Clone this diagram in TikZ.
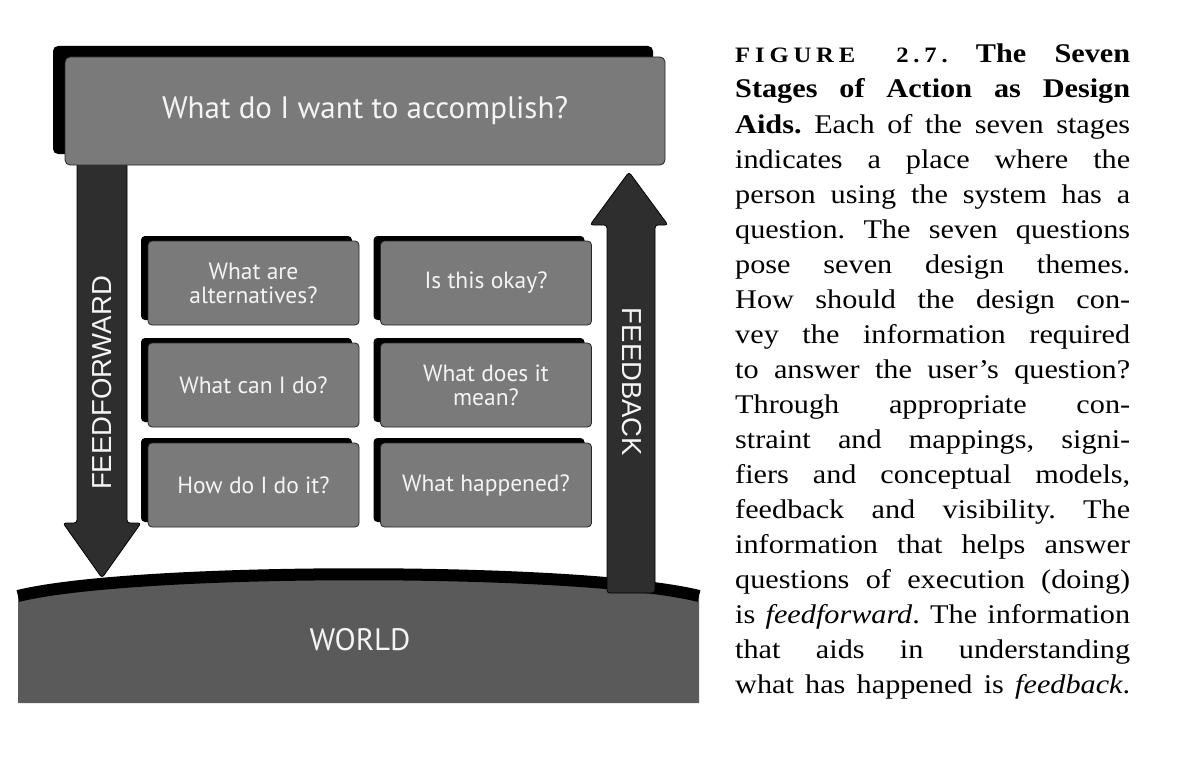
\documentclass[tikz,border=0pt]{standalone}
\usepackage{fontspec}
\setmainfont{Liberation Serif}[FakeStretch=1.12]
\newfontfamily\boxfont{PT Sans}
\newfontfamily\labfont{Liberation Sans}
\usetikzlibrary{shadows}
\definecolor{boxgray}{HTML}{7A7A7A}
\definecolor{shaftgray}{HTML}{2E2E2E}
\definecolor{worldgray}{HTML}{5A5A5A}
\definecolor{txtwhite}{HTML}{F4F4F4}
\frenchspacing
\begin{document}
\begin{tikzpicture}[x=1pt,y=-1pt,
  bigbox/.style={draw=black!85, line width=0.8pt, fill=boxgray, rounded corners=5pt,
    minimum width=600pt, minimum height=108pt, inner sep=0pt, text=txtwhite,
    font=\boxfont\fontsize{31}{33}\selectfont,
    general shadow={fill=black, shadow xshift=-12pt, shadow yshift=11pt}},
  qbox/.style={draw=black!85, line width=0.8pt, fill=boxgray, rounded corners=4pt,
    minimum width=211pt, minimum height=84pt, inner sep=0pt, text=txtwhite, align=center,
    font=\boxfont\fontsize{23.5}{24}\selectfont,
    general shadow={fill=black, shadow xshift=-7pt, shadow yshift=5pt}},
  shaft/.style={fill=shaftgray, draw=black, line width=0.8pt, rounded corners=3pt},
  arrowlab/.style={text=txtwhite, font=\labfont\fontsize{27.5}{30}\selectfont, inner sep=0pt},
  capline/.style={anchor=base west, inner sep=0pt, font=\fontsize{27}{35}\selectfont}]
\useasboundingbox (0,0) rectangle (1184,768);
\fill[white] (0,0) rectangle (1184,768);

% world
\fill[worldgray] (18,703) -- (18,596) .. controls (135,567) and (582,567) .. (699,596) -- (699,703) -- cycle;
\draw[black, line width=12pt] (18,596) .. controls (135,567) and (582,567) .. (699,596);
\node[text=txtwhite, font=\boxfont\fontsize{31}{33}\selectfont, inner sep=0pt] (world) at (360,640) {WORLD};

% arrows
\coordinate (ffstart) at (102,160);
\coordinate (fftip) at (102,578);
\draw[shaft] (77,160) -- (77,523) -- (63,523) -- (fftip) -- (141,523) -- (127,523) -- (127,160) -- cycle;
\coordinate (fbstart) at (631,593);
\coordinate (fbtip) at (629,172);
\draw[shaft] (607,593) -- (607,225) -- (590,225) -- (fbtip) -- (668,225) -- (655,225) -- (655,593) -- cycle;
\node[arrowlab, rotate=90] (ff) at (102,383) {FEEDFORWARD};
\node[arrowlab, rotate=-90] (fb) at (632,382) {FEEDBACK};

% goal box
\node[bigbox] (goal) at (365,111) {What do I want to accomplish?};

% question boxes
\node[qbox] (alt)  at (253.5,283) {What are\\alternatives?};
\node[qbox] (can)  at (253.5,385) {What can I do?};
\node[qbox] (how)  at (253.5,485) {How do I do it?};
\node[qbox] (okay) at (486,283) {Is this okay?};
\node[qbox] (mean) at (486,385) {What does it\\mean?};
\node[qbox] (hap)  at (486,485) {What happened?};

% caption
\node[capline] (c1) at (735,63) {\makebox[395pt][s]{{\fontsize{22}{22}\selectfont\bfseries\addfontfeature{LetterSpace=22}FIGURE 2.7.} {\bfseries The} {\bfseries Seven}}};
\node[capline] (c2) at (735,98) {\makebox[395pt][s]{\bfseries Stages of Action as Design}};
\node[capline] (c3) at (735,133) {\makebox[395pt][s]{\textbf{Aids.} Each of the seven stages}};
\node[capline] (c4) at (735,168) {\makebox[395pt][s]{indicates a place where the}};
\node[capline] (c5) at (735,203) {\makebox[395pt][s]{person using the system has a}};
\node[capline] (c6) at (735,238) {\makebox[395pt][s]{question. The seven questions}};
\node[capline] (c7) at (735,273) {\makebox[395pt][s]{pose seven design themes.}};
\node[capline] (c8) at (735,308) {\makebox[395pt][s]{How should the design con-}};
\node[capline] (c9) at (735,343) {\makebox[395pt][s]{vey the information required}};
\node[capline] (c10) at (735,378) {\makebox[395pt][s]{to answer the user’s question?}};
\node[capline] (c11) at (735,413) {\makebox[395pt][s]{Through appropriate con-}};
\node[capline] (c12) at (735,448) {\makebox[395pt][s]{straint and mappings, signi-}};
\node[capline] (c13) at (735,483) {\makebox[395pt][s]{fiers and conceptual models,}};
\node[capline] (c14) at (735,518) {\makebox[395pt][s]{feedback and visibility. The}};
\node[capline] (c15) at (735,553) {\makebox[395pt][s]{information that helps answer}};
\node[capline] (c16) at (735,588) {\makebox[395pt][s]{questions of execution (doing)}};
\node[capline] (c17) at (735,623) {\makebox[395pt][s]{is \textit{feedforward}. The information}};
\node[capline] (c18) at (735,658) {\makebox[395pt][s]{that aids in understanding}};
\node[capline] (c19) at (735,693) {\makebox[395pt][s]{what has happened is \textit{feedback}.}};
\end{tikzpicture}
\end{document}
